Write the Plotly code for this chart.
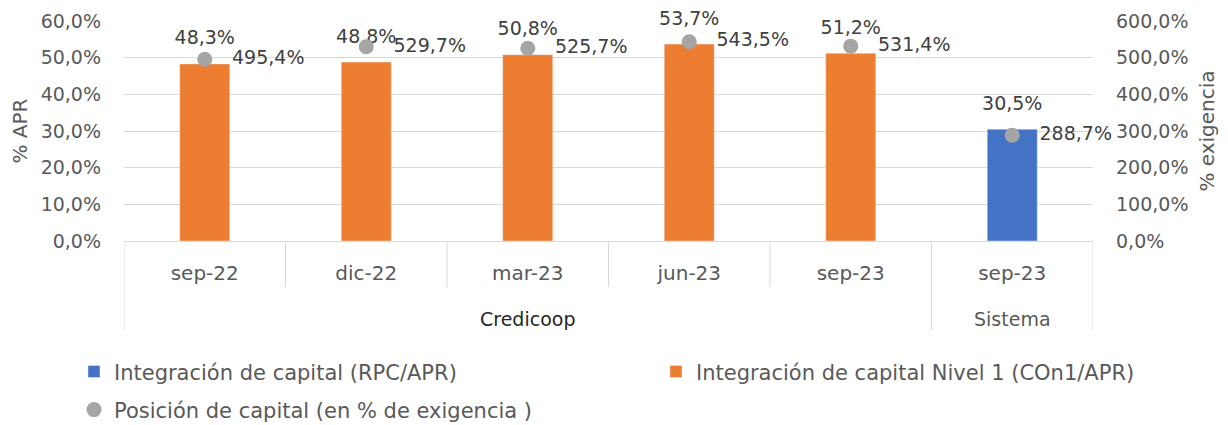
import plotly.graph_objects as go

groups = ["Credicoop", "Credicoop", "Credicoop", "Credicoop", "Credicoop", "Sistema"]
periods = ["sep-22", "dic-22", "mar-23", "jun-23", "sep-23", "sep-23"]
rpc_apr = [None, None, None, None, None, 30.5]
con1_apr = [48.3, 48.8, 50.8, 53.7, 51.2, None]
posicion = [495.4, 529.7, 525.7, 543.5, 531.4, 288.7]

BLUE = "#4472C4"
ORANGE = "#ED7D31"
GRAY = "#A5A5A5"
TXT = "#595959"
LBL = "#404040"
GRID = "#D9D9D9"
FONT = "DejaVu Sans"
group_colors = {"Credicoop": "#262626", "Sistema": TXT}

# page is drawn with an 8px body margin, so the figure is sized to fit the window
W, H = 1220, 417
ML, MR, MT, MB = 116, 135, 13, 184
PH = H - MT - MB  # plot height in px

def fmt(v):
    return f"{v:.1f}".replace(".", ",") + "%"

idx = list(range(len(periods)))
bar_vals = [a if a is not None else b for a, b in zip(con1_apr, rpc_apr)]

fig = go.Figure()
fig.add_trace(go.Bar(x=idx, y=rpc_apr, name="Integración de capital (RPC/APR)",
                     marker_color=BLUE, width=0.31, legend="legend"))
fig.add_trace(go.Bar(x=idx, y=con1_apr, name="Integración de capital Nivel 1 (COn1/APR)",
                     marker_color=ORANGE, width=0.31, legend="legend2"))
fig.add_trace(go.Scatter(x=idx, y=posicion, yaxis="y2", mode="markers",
                         name="Posición de capital (en % de exigencia )",
                         marker=dict(color=GRAY, size=15), legend="legend3"))
# bar value labels
fig.add_trace(go.Scatter(x=idx, y=bar_vals, mode="markers+text", showlegend=False,
                         text=[fmt(v) for v in bar_vals], textposition="top center",
                         marker=dict(size=22, opacity=0), hoverinfo="skip", cliponaxis=False,
                         textfont=dict(size=19, color=LBL, family=FONT)))
# dot value labels
fig.add_trace(go.Scatter(x=idx, y=posicion, yaxis="y2", mode="markers+text", showlegend=False,
                         text=[fmt(v) for v in posicion], textposition="middle right",
                         marker=dict(size=42, opacity=0), hoverinfo="skip", cliponaxis=False,
                         textfont=dict(size=19, color=LBL, family=FONT)))

# category boundaries (short ticks) and group dividers (long)
shapes = []
annotations = []
inner_len = 46 / PH
group_len = 89 / PH
for i in range(len(periods) - 1):
    if groups[i] == groups[i + 1]:
        shapes.append(dict(type="line", xref="x", yref="paper", x0=i + 0.5, x1=i + 0.5,
                           y0=0, y1=-inner_len, line=dict(color=GRID, width=1)))
order = []
for g in groups:
    if g not in order:
        order.append(g)
edges = set()
for g in order:
    members = [i for i, gg in enumerate(groups) if gg == g]
    lo, hi = min(members) - 0.5, max(members) + 0.5
    edges.update([lo, hi])
    annotations.append(dict(x=(min(members) + max(members)) / 2, y=0, xref="x", yref="paper",
                            text=g, showarrow=False, yanchor="middle", yshift=-78,
                            font=dict(size=19, color=group_colors[g], family=FONT)))
for e in sorted(edges):
    shapes.append(dict(type="line", xref="x", yref="paper", x0=e, x1=e,
                       y0=0, y1=-group_len, line=dict(color=GRID, width=1)))

leg_common = dict(orientation="h", xanchor="left", yanchor="middle",
                  font=dict(size=21, color=TXT, family=FONT), bgcolor="rgba(0,0,0,0)")

fig.update_layout(
    width=W, height=H,
    margin=dict(l=ML, r=MR, t=MT, b=MB, autoexpand=False),
    paper_bgcolor="white", plot_bgcolor="white",
    barmode="overlay",
    separators=",.",
    font=dict(family=FONT, size=19, color=TXT),
    showlegend=True,
    legend=dict(x=-0.0516, y=-0.595, **leg_common),
    legend2=dict(x=0.549, y=-0.595, **leg_common),
    legend3=dict(x=-0.0516, y=-0.768, **leg_common),
    shapes=shapes,
    annotations=annotations,
    xaxis=dict(range=[-0.5, len(periods) - 0.5], tickmode="array", tickvals=idx,
               ticktext=periods, showgrid=False, zeroline=False, ticks="",
               showline=True, linecolor=GRID, automargin=False,
               ticklabelstandoff=14, tickfont=dict(size=20, color=TXT)),
    yaxis=dict(range=[0, 60], dtick=10, tickformat=".1f", ticksuffix="%",
               gridcolor=GRID, zeroline=False, showline=False, automargin=False,
               tickfont=dict(size=19, color=TXT), ticklabelstandoff=22,
               title=dict(text="% APR", font=dict(size=20, color=TXT), standoff=18)),
    yaxis2=dict(range=[0, 600], dtick=100, tickformat=".1f", ticksuffix="%",
                overlaying="y", side="right", showgrid=False, zeroline=False,
                automargin=False,
                tickfont=dict(size=19, color=TXT), ticklabelstandoff=22,
                title=dict(text="% exigencia", font=dict(size=20, color=TXT), standoff=12)),
)

fig.write_html("out.html")
